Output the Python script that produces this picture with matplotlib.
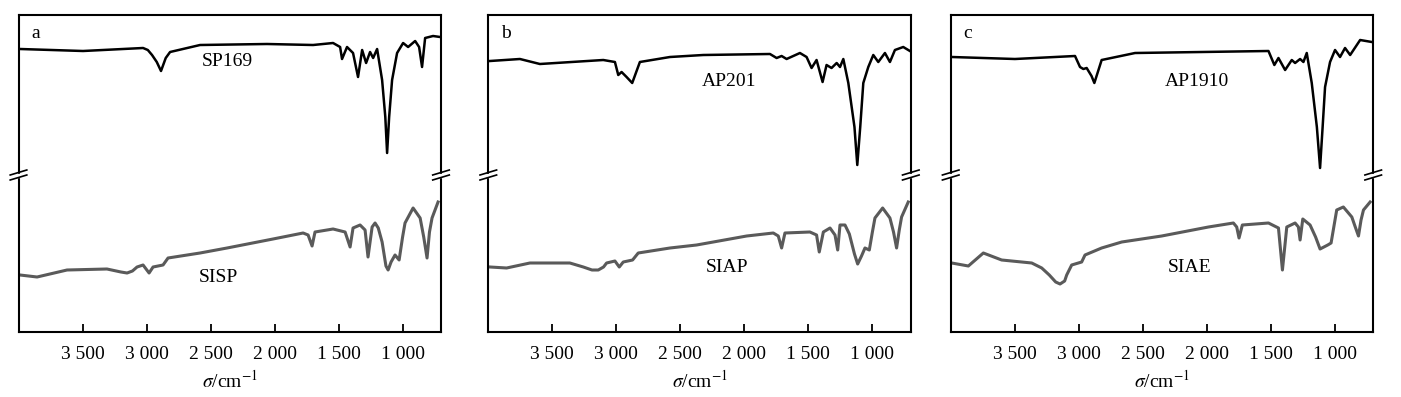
import numpy as np
import matplotlib.pyplot as plt

plt.rcParams['font.family'] = ['Liberation Serif', 'DejaVu Serif']
plt.rcParams['mathtext.fontset'] = 'stix'

# IR spectra (wavenumber in cm-1, transmittance in arbitrary offset units)
# panel a
a_top_x = [3988, 3496, 3027, 2990, 2957, 2920, 2887, 2850, 2816, 2582, 2059, 1699, 1543, 1488,
           1473, 1434, 1387, 1348, 1316, 1285, 1254, 1230, 1199, 1160, 1135, 1121, 1105, 1082,
           1043, 996, 957, 902, 871, 848, 824, 762, 707]
a_top_y = [283, 281, 284, 282, 277, 270, 261, 274, 280, 287, 288, 287, 289, 285,
           273, 285, 279, 255, 282, 269, 280, 274, 283, 252, 215, 179, 215, 252,
           279, 289, 285, 291, 285, 265, 294, 296, 295]
a_bot_x = [3988, 3855, 3621, 3309, 3200, 3152, 3110, 3074, 3027, 2980, 2949, 2871, 2832, 2582,
           2371, 2012, 1777, 1738, 1707, 1684, 1543, 1449, 1410, 1387, 1332, 1293, 1270, 1238,
           1215, 1190, 1160, 1130, 1113, 1090, 1059, 1027, 1000, 981, 918, 863, 835, 809, 790,
           770, 723]
a_bot_y = [57, 55, 62, 63, 60, 59, 61, 65, 67, 59, 65, 67, 74, 79,
           84, 93, 99, 97, 86, 100, 103, 100, 85, 104, 107, 102, 75, 105,
           109, 104, 90, 66, 62, 70, 77, 72, 95, 109, 124, 114, 95, 74, 100,
           114, 130]

# panel b
b_top_x = [3987, 3753, 3597, 3102, 3011, 2985, 2959, 2920, 2876, 2816, 2581, 2321, 1800, 1748,
           1709, 1670, 1566, 1514, 1475, 1436, 1389, 1358, 1319, 1279, 1253, 1227, 1188, 1140,
           1118, 1095, 1071, 1032, 993, 954, 902, 863, 824, 759, 707]
b_top_y = [271, 273, 268, 272, 270, 257, 260, 255, 249, 270, 275, 277, 278, 274,
           276, 273, 279, 275, 264, 272, 250, 267, 264, 269, 265, 273, 249, 205,
           167, 205, 249, 265, 277, 270, 279, 270, 282, 285, 281]
b_bot_x = [3987, 3857, 3675, 3363, 3258, 3190, 3141, 3100, 3076, 3011, 2977, 2946, 2873, 2829,
           2581, 2373, 1982, 1774, 1735, 1709, 1683, 1488, 1436, 1415, 1383, 1331, 1292, 1271,
           1253, 1214, 1180, 1140, 1115, 1085, 1058, 1024, 1000, 980, 920, 863, 835, 811, 790,
           772, 720]
b_bot_y = [65, 64, 69, 69, 65, 62, 62, 65, 69, 71, 65, 70, 72, 79,
           84, 87, 96, 99, 96, 84, 99, 100, 97, 80, 100, 104, 97, 82,
           107, 107, 98, 78, 68, 76, 84, 82, 100, 114, 124, 114, 100, 84, 102,
           115, 130]

# panel c
c_top_x = [3992, 3498, 3029, 2990, 2964, 2938, 2900, 2878, 2821, 2560, 2039, 1518, 1472, 1440,
           1388, 1336, 1310, 1271, 1245, 1219, 1180, 1140, 1115, 1095, 1076, 1037, 998, 959, 920,
           880, 802, 711]
c_top_y = [275, 273, 276, 265, 263, 264, 256, 249, 272, 279, 280, 281, 267, 274,
           262, 272, 269, 273, 270, 279, 249, 205, 164, 205, 245, 270, 282, 275, 284,
           277, 292, 290]
c_bot_x = [3992, 3862, 3745, 3602, 3367, 3289, 3230, 3180, 3146, 3110, 3094, 3055, 2977, 2951,
           2821, 2664, 2352, 1987, 1792, 1766, 1748, 1722, 1518, 1440, 1409, 1375, 1310, 1284,
           1271, 1250, 1193, 1150, 1115, 1055, 1029, 985, 933, 867, 840, 815, 795, 776, 724]
c_bot_y = [69, 66, 79, 72, 69, 64, 57, 50, 48, 51, 57, 67, 70, 77,
           84, 90, 96, 105, 109, 105, 94, 107, 109, 104, 62, 105, 109, 105,
           92, 113, 107, 95, 83, 87, 89, 122, 125, 115, 105, 96, 112, 122, 130]

letters = ['a', 'b', 'c']
top_names = ['SP169', 'AP201', 'AP1910']
bot_names = ['SISP', 'SIAP', 'SIAE']
top_lab_pos = [(2371, 270), (2120, 250), (2073, 250)]
bot_lab_pos = [(2441, 54), (2139, 65), (2136, 65)]
ticks = [3500, 3000, 2500, 2000, 1500, 1000]
tick_labels = ['3 500', '3 000', '2 500', '2 000', '1 500', '1 000']

panels = [(a_top_x, a_top_y, a_bot_x, a_bot_y),
          (b_top_x, b_top_y, b_bot_x, b_bot_y),
          (c_top_x, c_top_y, c_bot_x, c_bot_y)]
lefts = [18.5, 488.3, 950.7]

fig = plt.figure(figsize=(14.01, 3.97), dpi=100)
W, H = 1401, 397
for i, (tx, ty, bx, by) in enumerate(panels):
    ax = fig.add_axes([lefts[i] / W, (H - 332) / H, 422.5 / W, 317 / H])
    ax.plot(tx, ty, color='black', lw=1.8, solid_joinstyle='round')
    ax.plot(bx, by, color='#5a5a5a', lw=2.2, solid_joinstyle='round')
    ax.set_xlim(4000, 700)
    ax.set_ylim(0, 317)
    ax.set_yticks([])
    ax.set_xticks(ticks)
    ax.set_xticklabels(tick_labels, fontsize=14)
    ax.tick_params(axis='x', direction='in', length=6, width=1.3, pad=10)
    for s in ax.spines.values():
        s.set_linewidth(1.5)
    ax.set_xlabel(r'$\sigma$/cm$^{-1}$', fontsize=14, labelpad=5)
    ax.text(0.041, 0.943, letters[i], transform=ax.transAxes, fontsize=14,
            ha='center', va='center')
    ax.text(*top_lab_pos[i], top_names[i], fontsize=14, ha='center', va='center')
    ax.text(*bot_lab_pos[i], bot_names[i], fontsize=14, ha='center', va='center')
    # axis break marks on both sides
    for xe in (0.0, 1.0):
        dx = 8.3 / 422.5
        ax.fill_between([xe - 0.004, xe + 0.004], 155.5 / 317, 158.5 / 317,
                        color='white', transform=ax.transAxes, clip_on=False, zorder=5)
        for yc in (159.5, 154.5):
            ax.plot([xe - dx, xe + dx], [(yc - 2.5) / 317, (yc + 2.5) / 317],
                    color='black', lw=1.2, transform=ax.transAxes, clip_on=False, zorder=6)

plt.savefig('out.png', dpi=100)
